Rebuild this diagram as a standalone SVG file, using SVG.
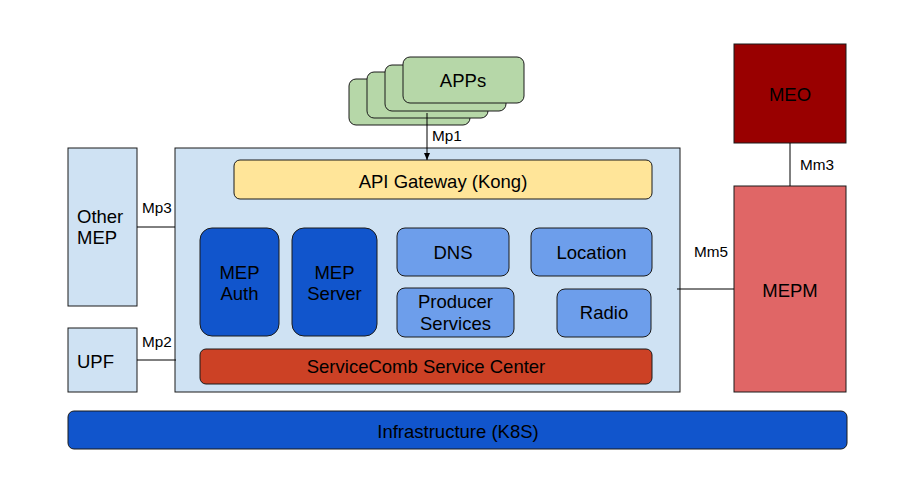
<svg xmlns="http://www.w3.org/2000/svg" width="914" height="495" viewBox="0 0 914 495">
<style>
  text { font-family: "Liberation Sans", Arial, sans-serif; font-size: 18.5px; fill: #000; }
  .c { text-anchor: middle; }
  .lbl { font-size: 15.3px; }
  .box { stroke: #1a1a1a; stroke-width: 1; }
  .light { fill: #cfe2f3; }
  .app { fill: #b6d7a8; }
  .svc { fill: #6d9eeb; }
  .dark { fill: #1155cc; }
  .conn { stroke: #000; stroke-width: 1; fill: none; }
</style>
<defs>
  <marker id="arr" markerWidth="8" markerHeight="8" refX="7" refY="4" orient="auto" markerUnits="userSpaceOnUse">
    <path d="M0,1 L7,4 L0,7 Z" fill="#000"/>
  </marker>
</defs>
<rect width="914" height="495" fill="#fff"/>

<g id="apps">
  <rect class="box app" x="349" y="79" width="121" height="46" rx="7"/>
  <rect class="box app" x="367" y="72" width="121" height="46" rx="7"/>
  <rect class="box app" x="385" y="65" width="121" height="46" rx="7"/>
  <rect class="box app" x="403" y="57" width="121" height="46" rx="7"/>
  <text class="c" x="463" y="87">APPs</text>
</g>

<g id="mep-platform">
  <rect class="box light" x="175" y="148" width="505" height="244"/>
</g>

<g id="other-mep">
  <rect class="box light" x="68" y="148" width="69" height="158"/>
  <text x="77" y="223">Other</text>
  <text x="77" y="244">MEP</text>
</g>

<g id="upf">
  <rect class="box light" x="68" y="328" width="69" height="64"/>
  <text x="77" y="368">UPF</text>
</g>

<g id="meo">
  <rect class="box" fill="#990000" x="734" y="44" width="112" height="99"/>
  <text class="c" x="790" y="101">MEO</text>
</g>

<g id="mepm">
  <rect class="box" fill="#e06666" x="734" y="186" width="112" height="206"/>
  <text class="c" x="790" y="297">MEPM</text>
</g>

<g id="api-gateway">
  <rect class="box" fill="#ffe599" x="234" y="160" width="418" height="39" rx="6"/>
  <text class="c" x="443" y="188">API Gateway (Kong)</text>
</g>

<g id="mep-auth">
  <rect class="box dark" x="200" y="228" width="79" height="108" rx="12"/>
  <text class="c" x="239.5" y="279">MEP</text>
  <text class="c" x="239.5" y="300">Auth</text>
</g>

<g id="mep-server">
  <rect class="box dark" x="292" y="228" width="85" height="108" rx="12"/>
  <text class="c" x="334.5" y="279">MEP</text>
  <text class="c" x="334.5" y="300">Server</text>
</g>

<g id="dns">
  <rect class="box svc" x="397" y="228" width="112" height="48" rx="8"/>
  <text class="c" x="453" y="259">DNS</text>
</g>

<g id="location">
  <rect class="box svc" x="531" y="228" width="121" height="48" rx="8"/>
  <text class="c" x="591.5" y="259">Location</text>
</g>

<g id="producer-services">
  <rect class="box svc" x="397" y="288" width="117" height="49" rx="8"/>
  <text class="c" x="455.5" y="308">Producer</text>
  <text class="c" x="455.5" y="330">Services</text>
</g>

<g id="radio">
  <rect class="box svc" x="557" y="289" width="94" height="48" rx="8"/>
  <text class="c" x="604" y="319">Radio</text>
</g>

<g id="service-center">
  <rect class="box" fill="#cc4125" x="200" y="349" width="452" height="35" rx="6"/>
  <text class="c" x="426" y="373">ServiceComb Service Center</text>
</g>

<g id="infrastructure">
  <rect class="box dark" x="68" y="411" width="779" height="38" rx="6"/>
  <text class="c" x="458" y="438">Infrastructure (K8S)</text>
</g>

<g id="connectors">
  <line class="conn" x1="427" y1="113" x2="427" y2="160" marker-end="url(#arr)"/>
  <text class="lbl" x="432" y="141">Mp1</text>
  <line class="conn" x1="137" y1="227" x2="175" y2="227"/>
  <text class="lbl" x="142" y="213">Mp3</text>
  <line class="conn" x1="137" y1="360" x2="176" y2="360"/>
  <text class="lbl" x="142" y="347">Mp2</text>
  <line class="conn" x1="790" y1="143" x2="790" y2="186"/>
  <text class="lbl" x="800" y="170">Mm3</text>
  <line class="conn" x1="677" y1="289" x2="734" y2="289"/>
  <text class="lbl" x="694" y="257">Mm5</text>
</g>
</svg>
